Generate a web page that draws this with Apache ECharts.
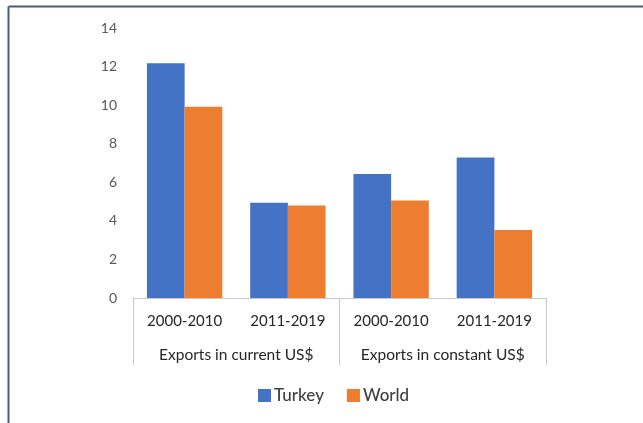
<!DOCTYPE html>
<html>
<head>
<meta charset="utf-8">
<script src="https://cdn.jsdelivr.net/npm/echarts@6/dist/echarts.min.js"></script>
<style>html,body{margin:0;padding:0;background:#fff;}#c{width:643px;height:423px;}</style>
</head>
<body>
<div id="c"></div>
<script>
var periods = ['2000-2010', '2011-2019', '2000-2010', '2011-2019'];
var groups = ['Exports in current US$', 'Exports in constant US$'];
var yTicks = [0, 2, 4, 6, 8, 10, 12, 14];
var turkey = [12.17, 4.94, 6.43, 7.29];
var world = [9.92, 4.8, 5.05, 3.53];

var FONT = 'Lato';
var chart = echarts.init(document.getElementById('c'), null, {renderer: 'canvas'});
chart.setOption({
  animation: false,
  backgroundColor: '#fff',
  textStyle: {fontFamily: FONT},
  graphic: [
    {type: 'line', shape: {x1: 8.5, y1: 6.5, x2: 643, y2: 6.5}, style: {stroke: '#4a5f76', lineWidth: 2}},
    {type: 'line', shape: {x1: 8.5, y1: 6.5, x2: 8.5, y2: 423}, style: {stroke: '#4a5f76', lineWidth: 2}}
  ],
  legend: {
    data: ['Turkey', 'World'],
    left: 258, top: 387, padding: 0,
    itemWidth: 13, itemHeight: 13, itemGap: 23,
    icon: 'rect',
    textStyle: {fontFamily: FONT, fontSize: 17, fontWeight: 500, color: '#404040', padding: [0, 0, 0, -2]}
  },
  grid: {left: 133, right: 97, top: 28, bottom: 125},
  xAxis: [
    {
      type: 'category', data: periods, position: 'bottom',
      axisLine: {show: true, lineStyle: {color: '#c8c8c8', width: 1}},
      axisTick: {show: false},
      axisLabel: {fontFamily: FONT, fontSize: 15, color: '#262626', margin: 16, interval: 0}
    },
    {
      type: 'category', data: groups, position: 'bottom',
      axisLine: {show: false},
      axisTick: {show: true, length: 67, interval: 0, lineStyle: {color: '#c8c8c8', width: 1}},
      axisLabel: {fontFamily: FONT, fontSize: 15.5, color: '#262626', margin: 49, interval: 0, hideOverlap: false}
    }
  ],
  yAxis: {
    type: 'value', min: yTicks[0], max: yTicks[yTicks.length - 1], interval: 2,
    axisLine: {show: false}, axisTick: {show: false}, splitLine: {show: false},
    axisLabel: {fontFamily: FONT, fontSize: 14, color: '#595959', margin: 16}
  },
  series: [
    {name: 'Turkey', type: 'bar', data: turkey, xAxisIndex: 0, itemStyle: {color: '#4472C4'}, barGap: '0%', barCategoryGap: '27%'},
    {name: 'World', type: 'bar', data: world, xAxisIndex: 0, itemStyle: {color: '#ED7D31'}, barGap: '0%', barCategoryGap: '27%'}
  ]
});
</script>
</body>
</html>
